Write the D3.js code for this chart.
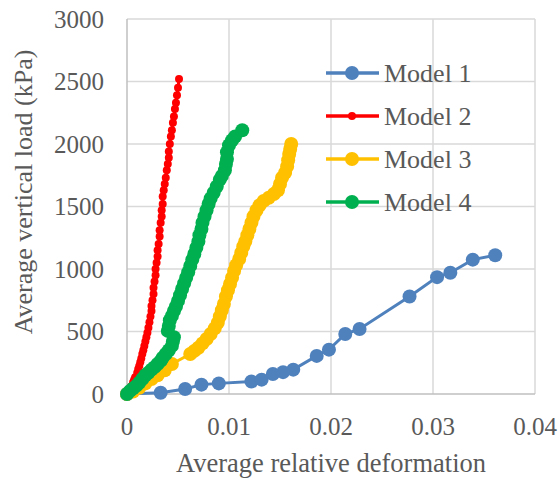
<!DOCTYPE html>
<html lang="en">
<head>
    <meta charset="utf-8">
    <title>Load vs deformation</title>
    <script src="https://cdn.jsdelivr.net/npm/d3@7/dist/d3.min.js" charset="utf-8"></script>
    <style>
      body { margin: 0; background: #fff; }
      text { font-family: "Liberation Serif", "Times New Roman", serif; fill: #595959; }
      .grid line { stroke: #d9d9d9; stroke-width: 1.5px; }
      .axisline { stroke: #bfbfbf; stroke-width: 1.5px; }
    </style>
</head>
<body>
<svg width="560" height="479"></svg>

<script>
// tick values
var xTicks = [0, 0.01, 0.02, 0.03, 0.04];
var yTicks = [0, 500, 1000, 1500, 2000, 2500, 3000];

// [average relative deformation, average vertical load (kPa)]
var model1 = [[0,0],[0.0033,10],[0.0057,40],[0.0073,75],[0.0090,85],[0.0122,100],[0.0132,115],
  [0.0143,160],[0.0153,175],[0.0163,195],[0.0186,305],[0.0198,355],[0.0214,480],[0.0228,520],
  [0.0277,780],[0.0304,935],[0.0317,970],[0.0339,1075],[0.0361,1110]];

var model2 = [[0,0],[0.0002,30],[0.0004,60],[0.0006,95],[0.0007,115],[0.0008,135],[0.0010,170],
  [0.0011,200],[0.0012,225],[0.0013,255],[0.0014,285],[0.0015,320],[0.0016,350],[0.0017,385],
  [0.0018,420],[0.0019,455],[0.0020,490],[0.0021,530],[0.0022,575],[0.0023,620],[0.0024,665],
  [0.0024,705],[0.0025,750],[0.0026,800],[0.0026,850],[0.0027,900],[0.0028,950],[0.0028,1000],
  [0.0029,1050],[0.0030,1100],[0.0030,1150],[0.0031,1200],[0.0032,1260],[0.0032,1310],
  [0.0033,1370],[0.0034,1420],[0.0034,1470],[0.0035,1520],[0.0035,1580],[0.0036,1630],
  [0.0037,1680],[0.0038,1730],[0.0039,1790],[0.0040,1840],[0.0041,1890],[0.0041,1940],
  [0.0042,2000],[0.0043,2060],[0.0044,2110],[0.0045,2170],[0.0046,2220],[0.0047,2280],
  [0.0048,2330],[0.0049,2390],[0.0050,2450],[0.0051,2520]];

var model3 = [[0,0],[0.0006,20],[0.0012,50],[0.0018,85],[0.0024,120],[0.0030,150],[0.0037,190],
  [0.0044,240],[0.0062,320],[0.0066,345],[0.0070,370],[0.0074,405],[0.0078,440],[0.0082,480],
  [0.0086,525],[0.0089,570],[0.0091,620],[0.0093,670],[0.0095,720],[0.0097,780],[0.0099,830],
  [0.0101,880],[0.0103,930],[0.0105,985],[0.0107,1030],[0.0110,1080],[0.0112,1130],
  [0.0114,1180],[0.0116,1220],[0.0118,1270],[0.0120,1320],[0.0122,1370],[0.0124,1420],
  [0.0127,1470],[0.0130,1510],[0.0134,1545],[0.0139,1570],[0.0144,1600],[0.0148,1630],
  [0.0150,1680],[0.0152,1730],[0.0155,1770],[0.0157,1820],[0.0158,1870],[0.0159,1920],
  [0.0160,1960],[0.0161,2000]];

var model4 = [[0,0],[0.0003,25],[0.0006,45],[0.0009,65],[0.0012,90],[0.0015,120],[0.0018,150],
  [0.0021,170],[0.0024,195],[0.0027,215],[0.0030,240],[0.0033,265],[0.0035,290],[0.0038,320],
  [0.0041,350],[0.0044,385],[0.0045,420],[0.0046,455],[0.0040,505],[0.0041,545],[0.0042,590],
  [0.0044,625],[0.0046,665],[0.0048,700],[0.0050,745],[0.0052,790],[0.0054,840],[0.0056,885],
  [0.0058,930],[0.0060,975],[0.0062,1025],[0.0064,1075],[0.0066,1120],[0.0068,1170],
  [0.0070,1220],[0.0071,1270],[0.0073,1320],[0.0074,1370],[0.0076,1420],[0.0078,1470],
  [0.0080,1520],[0.0082,1565],[0.0085,1610],[0.0088,1660],[0.0091,1715],[0.0093,1745],
  [0.0096,1790],[0.0097,1840],[0.0098,1880],[0.0098,1935],[0.0100,1990],[0.0103,2030],
  [0.0106,2060],[0.0113,2110]];

var series = [
  {name: "Model 1", data: model1, color: "#4f81bd", r: 7},
  {name: "Model 2", data: model2, color: "#ff0000", r: 4},
  {name: "Model 3", data: model3, color: "#ffc000", r: 7},
  {name: "Model 4", data: model4, color: "#00b050", r: 7}
];

var svg = d3.select("svg");
var plotLeft = 127, plotRight = 535, plotTop = 19, plotBottom = 394;

var x = d3.scaleLinear().domain([0, 0.04]).range([plotLeft, plotRight]);
var y = d3.scaleLinear().domain([0, 3000]).range([plotBottom, plotTop]);

// gridlines
var grid = svg.append("g").attr("class", "grid");
grid.selectAll("line.h").data(yTicks.slice(1)).enter().append("line")
    .attr("x1", plotLeft).attr("x2", plotRight)
    .attr("y1", function(d) { return y(d); }).attr("y2", function(d) { return y(d); });
grid.selectAll("line.v").data(xTicks.slice(1)).enter().append("line")
    .attr("y1", plotTop).attr("y2", plotBottom)
    .attr("x1", function(d) { return x(d); }).attr("x2", function(d) { return x(d); });

svg.append("line").attr("class", "axisline")
    .attr("x1", plotLeft).attr("x2", plotLeft).attr("y1", plotTop).attr("y2", plotBottom);
svg.append("line").attr("class", "axisline")
    .attr("x1", plotLeft).attr("x2", plotRight).attr("y1", plotBottom).attr("y2", plotBottom);

// tick labels
svg.append("g").selectAll("text").data(yTicks).enter().append("text")
    .attr("x", 104)
    .attr("y", function(d) { return y(d); })
    .attr("dy", "0.35em")
    .attr("text-anchor", "end")
    .style("font-size", "25px")
    .text(function(d) { return d; });

svg.append("g").selectAll("text").data(xTicks).enter().append("text")
    .attr("x", function(d) { return x(d); })
    .attr("y", 435)
    .attr("text-anchor", "middle")
    .style("font-size", "25px")
    .text(function(d) { return d === 0 ? "0" : d3.format(".2f")(d); });

// axis titles
svg.append("text")
    .attr("x", (plotLeft + plotRight) / 2).attr("y", 472)
    .attr("text-anchor", "middle")
    .style("font-size", "26.5px")
    .text("Average relative deformation");

svg.append("text")
    .attr("transform", "translate(32,192) rotate(-90)")
    .attr("text-anchor", "middle")
    .style("font-size", "26px")
    .text("Average vertical load (kPa)");

// series
var line = d3.line()
    .x(function(d) { return x(d[0]); })
    .y(function(d) { return y(d[1]); });

series.forEach(function(s) {
  var g = svg.append("g");
  g.append("path")
      .datum(s.data)
      .attr("d", line)
      .attr("fill", "none")
      .attr("stroke", s.color)
      .attr("stroke-width", 3);
  g.selectAll("circle").data(s.data).enter().append("circle")
      .attr("cx", function(d) { return x(d[0]); })
      .attr("cy", function(d) { return y(d[1]); })
      .attr("r", s.r)
      .attr("fill", s.color);
});

// legend
var legend = svg.append("g").selectAll("g").data(series).enter().append("g")
    .attr("transform", function(d, i) { return "translate(0," + (73 + i * 43) + ")"; });
legend.append("line")
    .attr("x1", 326).attr("x2", 379)
    .attr("stroke", function(d) { return d.color; })
    .attr("stroke-width", 3.5);
legend.append("circle")
    .attr("cx", 352).attr("r", function(d) { return d.r; })
    .attr("fill", function(d) { return d.color; });
legend.append("text")
    .attr("x", 384).attr("dy", "0.35em")
    .style("font-size", "26px")
    .text(function(d) { return d.name; });
</script>
</body>
</html>
